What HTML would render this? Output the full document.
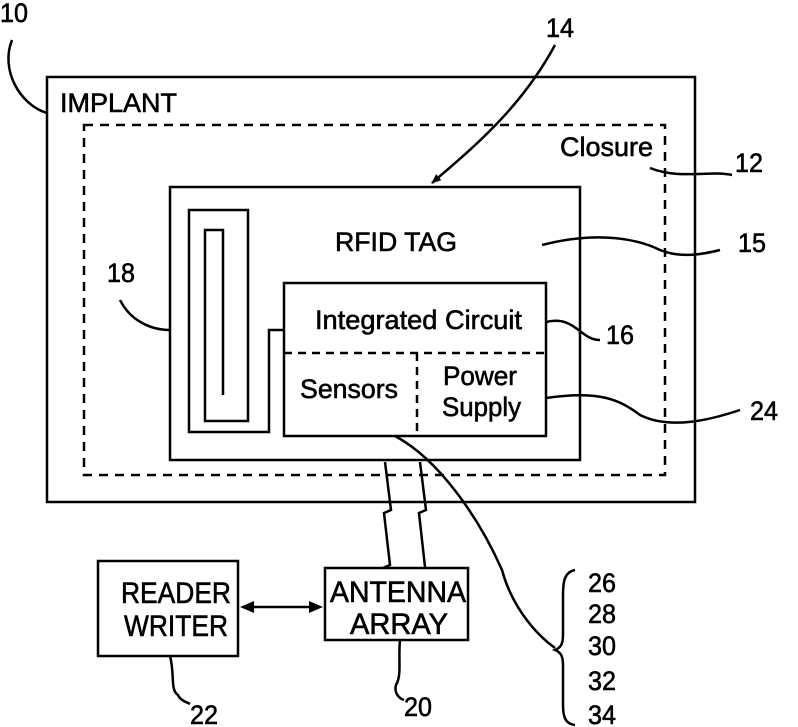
<!DOCTYPE html>
<html><head><meta charset="utf-8"><style>
html,body{margin:0;padding:0;background:#fff;}
svg{display:block;}
text{font-family:"Liberation Sans Narrow","Liberation Sans",sans-serif;fill:#000;stroke:#000;stroke-width:0.6;}
</style></head><body>
<svg width="798" height="727" viewBox="0 0 798 727" xmlns="http://www.w3.org/2000/svg">
<defs>
<marker id="ah" markerWidth="10" markerHeight="10" refX="9" refY="5" orient="auto" markerUnits="userSpaceOnUse"><path d="M0,1 L10,5 L0,9 z" fill="#000"/></marker>
</defs>
<g fill="none" stroke="#000" stroke-width="2.5">
<rect x="47" y="77" width="648" height="425"/>
<rect x="84" y="125" width="581" height="350" stroke-dasharray="9,7"/>
<rect x="170" y="187" width="410" height="273"/>
<path d="M223,395 V230 H205 V421 H248 V210 H189 V432 H269 V330 H284"/>
<rect x="284" y="283" width="262" height="153"/>
<path d="M284,353 H546" stroke-dasharray="8,6"/>
<path d="M417,353 V436" stroke-dasharray="8,6"/>
<path d="M12,40 C0,70 20,105 47,113"/>
<path d="M120,300 C130,320 150,330 170,330"/>
<path d="M555,45 C520,110 470,150 432,183" marker-end="url(#ah)"/>
<path d="M650,168 C680,180 710,170 732,175"/>
<path d="M542,245 C600,230 640,240 660,250 C680,258 700,255 720,250"/>
<path d="M546,322 C575,315 580,340 600,340"/>
<path d="M546,398 C600,390 620,400 640,415 C670,430 710,420 740,410"/>
<path d="M385,462 L391,510 L384,513 L390,565 L383,568"/>
<path d="M420,462 L426,510 L419,513 L425,567"/>
<path d="M395,436 C440,460 480,520 502,570 C510,600 530,630 555,648"/>
<path d="M575,570 C565,572 563,580 563,595 V635 C563,645 560,648 555,650 C560,652 563,655 563,665 V705 C563,718 566,724 575,725"/>
<rect x="98" y="561" width="140" height="95"/>
<rect x="325" y="568" width="143" height="72"/>
<path d="M250,607 H313"/>
<path d="M170,656 C175,675 170,690 178,695 C180,700 186,702 190,704"/>
<path d="M400,640 C398,660 402,675 396,685 C394,692 398,698 404,700"/>
</g>
<path d="M240,607 L254,601 L254,613 z M323,607 L309,601 L309,613 z" fill="#000"/>
<g font-size="27">
<text x="0" y="22" textLength="28" lengthAdjust="spacingAndGlyphs">10</text>
<text x="60" y="112" textLength="117" lengthAdjust="spacingAndGlyphs">IMPLANT</text>
<text x="546" y="37" textLength="28" lengthAdjust="spacingAndGlyphs">14</text>
<text x="560" y="156" textLength="93" lengthAdjust="spacingAndGlyphs">Closure</text>
<text x="735" y="172" textLength="28" lengthAdjust="spacingAndGlyphs">12</text>
<text x="335" y="251" textLength="122" lengthAdjust="spacingAndGlyphs">RFID TAG</text>
<text x="738" y="252" textLength="28" lengthAdjust="spacingAndGlyphs">15</text>
<text x="107" y="282" textLength="28" lengthAdjust="spacingAndGlyphs">18</text>
<text x="315" y="329" textLength="207" lengthAdjust="spacingAndGlyphs">Integrated Circuit</text>
<text x="606" y="344" textLength="28" lengthAdjust="spacingAndGlyphs">16</text>
<text x="300" y="398" textLength="98" lengthAdjust="spacingAndGlyphs">Sensors</text>
<text x="443" y="385" textLength="74" lengthAdjust="spacingAndGlyphs">Power</text>
<text x="442" y="416" textLength="79" lengthAdjust="spacingAndGlyphs">Supply</text>
<text x="750" y="420" textLength="28" lengthAdjust="spacingAndGlyphs">24</text>
</g>
<g font-size="30">
<text x="121" y="603" textLength="110" lengthAdjust="spacingAndGlyphs">READER</text>
<text x="124" y="636" textLength="104" lengthAdjust="spacingAndGlyphs">WRITER</text>
<text x="330" y="602" textLength="136" lengthAdjust="spacingAndGlyphs">ANTENNA</text>
<text x="350" y="634" textLength="98" lengthAdjust="spacingAndGlyphs">ARRAY</text>
</g>
<g font-size="27">
<text x="190" y="724" textLength="28" lengthAdjust="spacingAndGlyphs">22</text>
<text x="404" y="716" textLength="28" lengthAdjust="spacingAndGlyphs">20</text>
<text x="588" y="592" textLength="28" lengthAdjust="spacingAndGlyphs">26</text>
<text x="588" y="623" textLength="28" lengthAdjust="spacingAndGlyphs">28</text>
<text x="588" y="655" textLength="28" lengthAdjust="spacingAndGlyphs">30</text>
<text x="588" y="690" textLength="28" lengthAdjust="spacingAndGlyphs">32</text>
<text x="588" y="724" textLength="28" lengthAdjust="spacingAndGlyphs">34</text>
</g>
</svg>
</body></html>
